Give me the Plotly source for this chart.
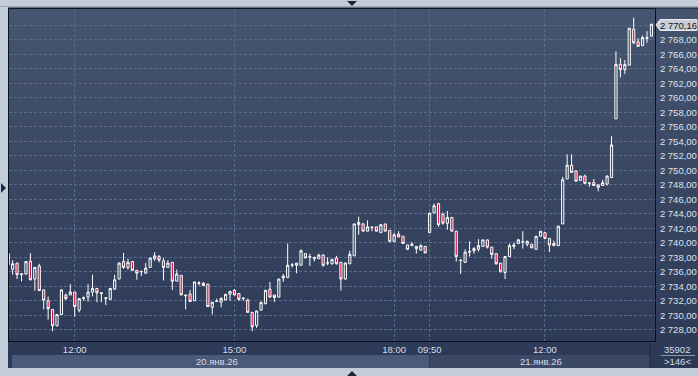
import plotly.graph_objects as go

# ---------------- data (5-minute candles) ----------------
opens = [2737.0, 2736.35, 2737.2, 2735.6, 2735.7, 2737.45, 2735.0, 2736.8, 2733.5, 2732.0,
         2730.8, 2728.55, 2730.1, 2732.8, 2732.8, 2733.2, 2730.7, 2732.3, 2732.5, 2733.2,
         2733.7, 2733.0, 2732.3, 2732.2, 2733.6, 2735.0, 2737.4, 2736.6, 2737.4, 2736.2,
         2736.0, 2735.8, 2736.6, 2737.8, 2738.1, 2737.5, 2736.6, 2737.3, 2734.7, 2735.5,
         2732.8, 2732.9, 2732.0, 2734.4, 2734.4, 2734.3, 2731.1, 2731.9, 2731.8, 2732.1,
         2732.9, 2733.45, 2733.0, 2732.3, 2732.1, 2730.4, 2728.6, 2730.7, 2731.6, 2733.6,
         2732.8, 2732.5, 2735.15, 2735.2, 2736.9, 2736.9, 2736.9, 2738.5, 2738.0, 2737.8,
         2737.8, 2738.3, 2737.2, 2737.1, 2737.9, 2737.3, 2735.0, 2737.1, 2738.2, 2742.8,
         2742.6, 2741.6, 2742.1, 2742.2, 2741.4, 2742.6, 2741.7, 2740.2, 2741.2, 2740.9,
         2739.7, 2739.6, 2739.5, 2739.0, 2739.5, 2741.4, 2744.1, 2745.4, 2743.9, 2742.7,
         2743.5, 2741.6, 2737.55, 2737.3, 2738.7, 2738.9, 2739.1, 2739.5, 2740.4, 2739.4,
         2738.5, 2737.2, 2735.9, 2738.1, 2739.5, 2739.9, 2740.1, 2739.8, 2739.8, 2739.1,
         2740.9, 2741.4, 2740.6, 2739.9, 2739.6, 2742.6, 2748.8, 2750.7, 2749.9, 2748.6,
         2749.2, 2748.2, 2748.3, 2748.0, 2747.9, 2748.1, 2749.0, 2757.1, 2764.6, 2763.9,
         2764.5, 2769.45, 2767.7, 2767.2, 2768.2, 2768.5]
highs = [2739.3, 2737.6, 2737.2, 2735.8, 2737.5, 2738.55, 2736.6, 2737.1, 2733.5, 2732.6,
         2730.8, 2730.1, 2733.6, 2733.0, 2734.3, 2733.2, 2732.3, 2732.6, 2734.3, 2735.6,
         2733.7, 2733.1, 2732.4, 2733.7, 2735.6, 2737.3, 2738.6, 2737.8, 2737.5, 2736.2,
         2736.1, 2737.2, 2737.9, 2738.7, 2738.3, 2737.9, 2737.6, 2737.3, 2736.3, 2735.5,
         2732.8, 2733.5, 2734.6, 2734.7, 2734.6, 2734.3, 2731.8, 2732.3, 2732.5, 2732.9,
         2733.3, 2733.6, 2733.0, 2732.5, 2732.3, 2730.4, 2730.6, 2731.9, 2733.5, 2734.6,
         2732.8, 2735.0, 2735.7, 2739.9, 2737.2, 2737.2, 2739.1, 2738.5, 2738.5, 2738.0,
         2738.5, 2738.4, 2738.0, 2737.8, 2738.2, 2737.3, 2737.3, 2738.9, 2742.6, 2743.6,
         2742.7, 2743.1, 2742.2, 2742.2, 2742.5, 2742.6, 2741.7, 2741.4, 2741.6, 2740.9,
         2739.7, 2740.1, 2739.5, 2739.8, 2739.5, 2744.1, 2745.4, 2745.5, 2744.2, 2744.4,
         2743.5, 2741.6, 2737.65, 2739.1, 2740.2, 2739.4, 2740.5, 2740.4, 2740.4, 2739.4,
         2738.5, 2737.2, 2738.1, 2739.9, 2740.05, 2740.55, 2741.6, 2740.3, 2739.8, 2740.9,
         2741.6, 2741.4, 2740.6, 2740.3, 2742.3, 2749.1, 2752.2, 2752.2, 2750.0, 2749.2,
         2749.4, 2748.25, 2748.8, 2748.0, 2748.7, 2749.3, 2754.7, 2766.4, 2765.5, 2765.2,
         2769.6, 2771.05, 2768.2, 2768.6, 2769.2, 2770.16]
lows = [2736.4, 2735.6, 2735.0, 2734.7, 2735.6, 2734.8, 2733.4, 2733.4, 2730.8, 2729.4,
        2727.8, 2728.5, 2730.1, 2732.1, 2732.8, 2729.8, 2730.4, 2732.0, 2731.9, 2732.6,
        2731.8, 2731.8, 2731.4, 2732.1, 2733.5, 2735.0, 2736.4, 2736.3, 2736.2, 2734.9,
        2735.4, 2735.8, 2736.6, 2737.5, 2737.3, 2734.8, 2736.6, 2733.5, 2734.7, 2732.8,
        2730.8, 2731.9, 2732.0, 2734.1, 2734.1, 2731.2, 2730.1, 2731.9, 2731.1, 2732.1,
        2732.0, 2732.8, 2732.0, 2732.0, 2730.4, 2727.8, 2728.25, 2730.7, 2731.5, 2732.5,
        2731.85, 2732.5, 2734.6, 2735.2, 2736.6, 2735.8, 2736.9, 2737.9, 2736.8, 2737.4,
        2737.8, 2736.7, 2736.9, 2737.0, 2737.0, 2733.4, 2734.9, 2737.1, 2738.2, 2741.1,
        2741.6, 2741.6, 2741.6, 2741.6, 2741.4, 2741.6, 2740.05, 2740.05, 2740.8, 2739.9,
        2739.1, 2739.6, 2738.5, 2738.9, 2738.6, 2741.4, 2744.1, 2742.2, 2742.5, 2741.8,
        2741.6, 2737.4, 2735.7, 2737.2, 2738.1, 2738.5, 2738.8, 2739.5, 2739.2, 2737.8,
        2737.0, 2735.9, 2735.0, 2738.1, 2739.1, 2739.8, 2739.2, 2739.5, 2739.3, 2739.1,
        2740.9, 2740.6, 2738.7, 2739.6, 2739.6, 2742.6, 2748.8, 2749.7, 2748.4, 2748.6,
        2748.1, 2747.75, 2747.9, 2747.1, 2747.9, 2747.9, 2748.9, 2757.1, 2762.8, 2763.3,
        2764.5, 2767.4, 2767.1, 2767.2, 2767.6, 2768.5]
closes = [2738.5, 2737.1, 2735.6, 2735.7, 2737.4, 2734.9, 2736.6, 2733.4, 2732.1, 2730.9,
          2728.55, 2730.1, 2733.5, 2732.3, 2733.2, 2731.2, 2732.3, 2732.4, 2733.2, 2733.7,
          2733.1, 2733.1, 2732.4, 2733.7, 2734.9, 2737.2, 2736.6, 2737.3, 2736.2, 2735.8,
          2736.05, 2736.5, 2737.9, 2738.2, 2737.6, 2736.6, 2737.2, 2734.7, 2735.7, 2732.8,
          2732.7, 2731.9, 2734.6, 2734.45, 2734.1, 2731.2, 2731.8, 2731.95, 2732.3, 2732.9,
          2733.3, 2732.8, 2732.2, 2732.35, 2730.4, 2728.4, 2730.6, 2731.75, 2733.45, 2732.5,
          2732.45, 2735.0, 2735.4, 2736.9, 2736.95, 2737.2, 2738.9, 2737.9, 2738.1, 2738.0,
          2738.3, 2736.9, 2737.25, 2737.7, 2737.1, 2735.0, 2737.2, 2738.4, 2742.6, 2742.5,
          2741.6, 2742.2, 2742.15, 2741.6, 2742.5, 2741.6, 2740.2, 2741.1, 2740.8, 2739.9,
          2739.1, 2739.8, 2739.2, 2739.6, 2738.6, 2744.1, 2745.1, 2742.5, 2742.7, 2743.5,
          2741.6, 2738.1, 2737.6, 2738.7, 2738.8, 2739.2, 2739.6, 2740.4, 2739.4, 2738.4,
          2737.1, 2736.0, 2738.1, 2739.6, 2739.7, 2740.4, 2740.15, 2740.2, 2739.3, 2740.9,
          2741.6, 2740.6, 2739.7, 2739.6, 2742.3, 2748.7, 2750.7, 2749.7, 2748.5, 2749.2,
          2748.2, 2748.25, 2747.9, 2747.65, 2748.3, 2749.2, 2753.5, 2764.6, 2763.9, 2764.6,
          2769.6, 2767.6, 2767.1, 2768.3, 2768.3, 2770.16]

x_idx = list(range(len(opens)))

x_tick_pos = [15, 51, 87, 95, 121]
x_tick_text = ["12:00", "15:00", "18:00", "09:50", "12:00"]

day_labels = ["20.янв.26", "21.янв.26"]
day_first_idx = [0, 95]
day_last_idx = [94, 145]

y_tick_vals = [2728, 2730, 2732, 2734, 2736, 2738, 2740, 2742, 2744, 2746, 2748,
               2750, 2752, 2754, 2756, 2758, 2760, 2762, 2764, 2766, 2768, 2770]
y_tick_text = ["2 728,00", "2 730,00", "2 732,00", "2 734,00", "2 736,00", "2 738,00",
               "2 740,00", "2 742,00", "2 744,00", "2 746,00", "2 748,00", "2 750,00",
               "2 752,00", "2 754,00", "2 756,00", "2 758,00", "2 760,00", "2 762,00",
               "2 764,00", "2 766,00", "2 768,00", ""]

last_price_text = "2 770,16"
volume_text = "35902"
bars_text = ">146<"

# ---------------- layout geometry ----------------
W, H = 698, 376
ML, MR, MT, MB = 9, 43, 9, 35
PW, PH = W - ML - MR, H - MT - MB


def pxx(px):
    return (px - ML) / PW


def pxy(py):
    return (H - MB - py) / PH


def mix(c1, c2, t):
    a = [int(c1[i:i + 2], 16) for i in (1, 3, 5)]
    b = [int(c2[i:i + 2], 16) for i in (1, 3, 5)]
    return "#%02x%02x%02x" % tuple(round(a[k] + (b[k] - a[k]) * t) for k in range(3))


FRAME = "#c3ccd9"
TOP_C = "#45546f"
BOT_C = "#2c3956"
RED = "#d2103c"
TXT = "#dde3ec"
FONT = "Liberation Sans"

fig = go.Figure()
fig.add_trace(go.Candlestick(
    x=x_idx, open=opens, high=highs, low=lows, close=closes,
    increasing=dict(line=dict(color="#ffffff", width=1), fillcolor="rgba(0,0,0,0)"),
    decreasing=dict(line=dict(color="#ffffff", width=1), fillcolor=RED),
    whiskerwidth=0, showlegend=False, hoverinfo="skip",
))

shapes = []
# gradient background: stacked rectangles, each reaching down to the bottom (no seams)
N = 90
y0p, y1p = 8, 368
for i in range(N):
    a = y0p + (y1p - y0p) * i / N
    col = mix(TOP_C, BOT_C, (i + 0.5) / N)
    shapes.append(dict(type="rect", xref="paper", yref="paper", layer="below",
                       x0=pxx(8), x1=pxx(W + 2), y0=pxy(y1p), y1=pxy(a),
                       line=dict(width=0), fillcolor=col))
# date band (day 1 lighter)
shapes.append(dict(type="rect", xref="paper", yref="paper", layer="below",
                   x0=pxx(12), x1=pxx(429), y0=pxy(368), y1=pxy(355),
                   line=dict(width=0), fillcolor="#4a5a78"))
shapes.append(dict(type="rect", xref="paper", yref="paper", layer="below",
                   x0=pxx(430), x1=pxx(650), y0=pxy(368), y1=pxy(355),
                   line=dict(width=0), fillcolor="#3b4966"))
# top frame lines
shapes.append(dict(type="line", xref="paper", yref="paper", layer="above",
                   x0=pxx(8), x1=pxx(W + 2), y0=pxy(8), y1=pxy(8),
                   line=dict(color="#121826", width=1)))
shapes.append(dict(type="line", xref="paper", yref="paper", layer="above",
                   x0=pxx(0), x1=pxx(W + 2), y0=pxy(6.5), y1=pxy(6.5),
                   line=dict(color="#9aa6b8", width=1)))
# stats panel separators
shapes.append(dict(type="line", xref="paper", yref="paper", layer="above",
                   x0=pxx(661), x1=pxx(695), y0=pxy(355.5), y1=pxy(355.5),
                   line=dict(color="#8a96aa", width=1)))
shapes.append(dict(type="line", xref="paper", yref="paper", layer="above",
                   x0=pxx(650), x1=pxx(650), y0=pxy(343), y1=pxy(367),
                   line=dict(color="#1f2840", width=1)))


def tri(pts, col="#1c2640"):
    p = "M " + " L ".join("%f,%f" % (pxx(x), pxy(y)) for x, y in pts) + " Z"
    return dict(type="path", xref="paper", yref="paper", layer="above", path=p,
                fillcolor=col, line=dict(width=0))


shapes.append(tri([(347, 1), (357, 1), (352, 6)]))
shapes.append(tri([(347, 376), (357, 376), (352, 371)]))
shapes.append(tri([(1, 183), (1, 193), (6, 188)]))
# last price marker
shapes.append(dict(type="path", xref="paper", yref="paper", layer="above",
                   path="M %f,%f L %f,%f L %f,%f L %f,%f L %f,%f Z" % (
                       pxx(656), pxy(25), pxx(660), pxy(19.5), pxx(697), pxy(19.5),
                       pxx(697), pxy(30.5), pxx(660), pxy(30.5)),
                   fillcolor="#c8cdd6", line=dict(color="#e8ebf0", width=1)))

annotations = []
annotations.append(dict(xref="paper", yref="paper", x=pxx(678), y=pxy(25),
                        text=last_price_text, showarrow=False, xanchor="center", yanchor="middle",
                        font=dict(family=FONT, size=9.5, color="#10141e")))
for lab, a, b in zip(day_labels, day_first_idx, day_last_idx):
    annotations.append(dict(xref="x", yref="paper", x=(a + b) / 2, y=pxy(361),
                            text=lab, showarrow=False, xanchor="center", yanchor="middle",
                            font=dict(family=FONT, size=9.5, color="#d5dce8")))
annotations.append(dict(xref="paper", yref="paper", x=pxx(677), y=pxy(349),
                        text=volume_text, showarrow=False, xanchor="center", yanchor="middle",
                        font=dict(family=FONT, size=9.5, color="#d5dce8")))
annotations.append(dict(xref="paper", yref="paper", x=pxx(677), y=pxy(361.5),
                        text=bars_text, showarrow=False, xanchor="center", yanchor="middle",
                        font=dict(family=FONT, size=9.5, color="#d5dce8")))

fig.update_layout(
    width=W, height=H,
    margin=dict(l=ML, r=MR, t=MT, b=MB, pad=0, autoexpand=False),
    paper_bgcolor=FRAME, plot_bgcolor="rgba(0,0,0,0)",
    shapes=shapes, annotations=annotations,
    showlegend=False,
    xaxis=dict(range=[0.18, 145.8], rangeslider=dict(visible=False), automargin=False,
               tickvals=x_tick_pos, ticktext=x_tick_text, ticks="",
               showgrid=True, gridcolor="#5a6a8c", griddash="3px,2px", gridwidth=1,
               zeroline=False, showline=True, linecolor="#0c111c", linewidth=1, mirror=True,
               tickfont=dict(family=FONT, size=9.5, color="#d5dce8")),
    yaxis=dict(range=[2726.45, 2772.25], side="right", automargin=False,
               tickvals=y_tick_vals, ticktext=y_tick_text, ticks="",
               showgrid=True, gridcolor="#5a6a8c", griddash="3px,2px", gridwidth=1,
               zeroline=False, showline=True, linecolor="#0c111c", linewidth=1, mirror=True,
               ticklabelstandoff=2,
               tickfont=dict(family=FONT, size=9.5, color=TXT)),
)

fig.write_html("out.html")
